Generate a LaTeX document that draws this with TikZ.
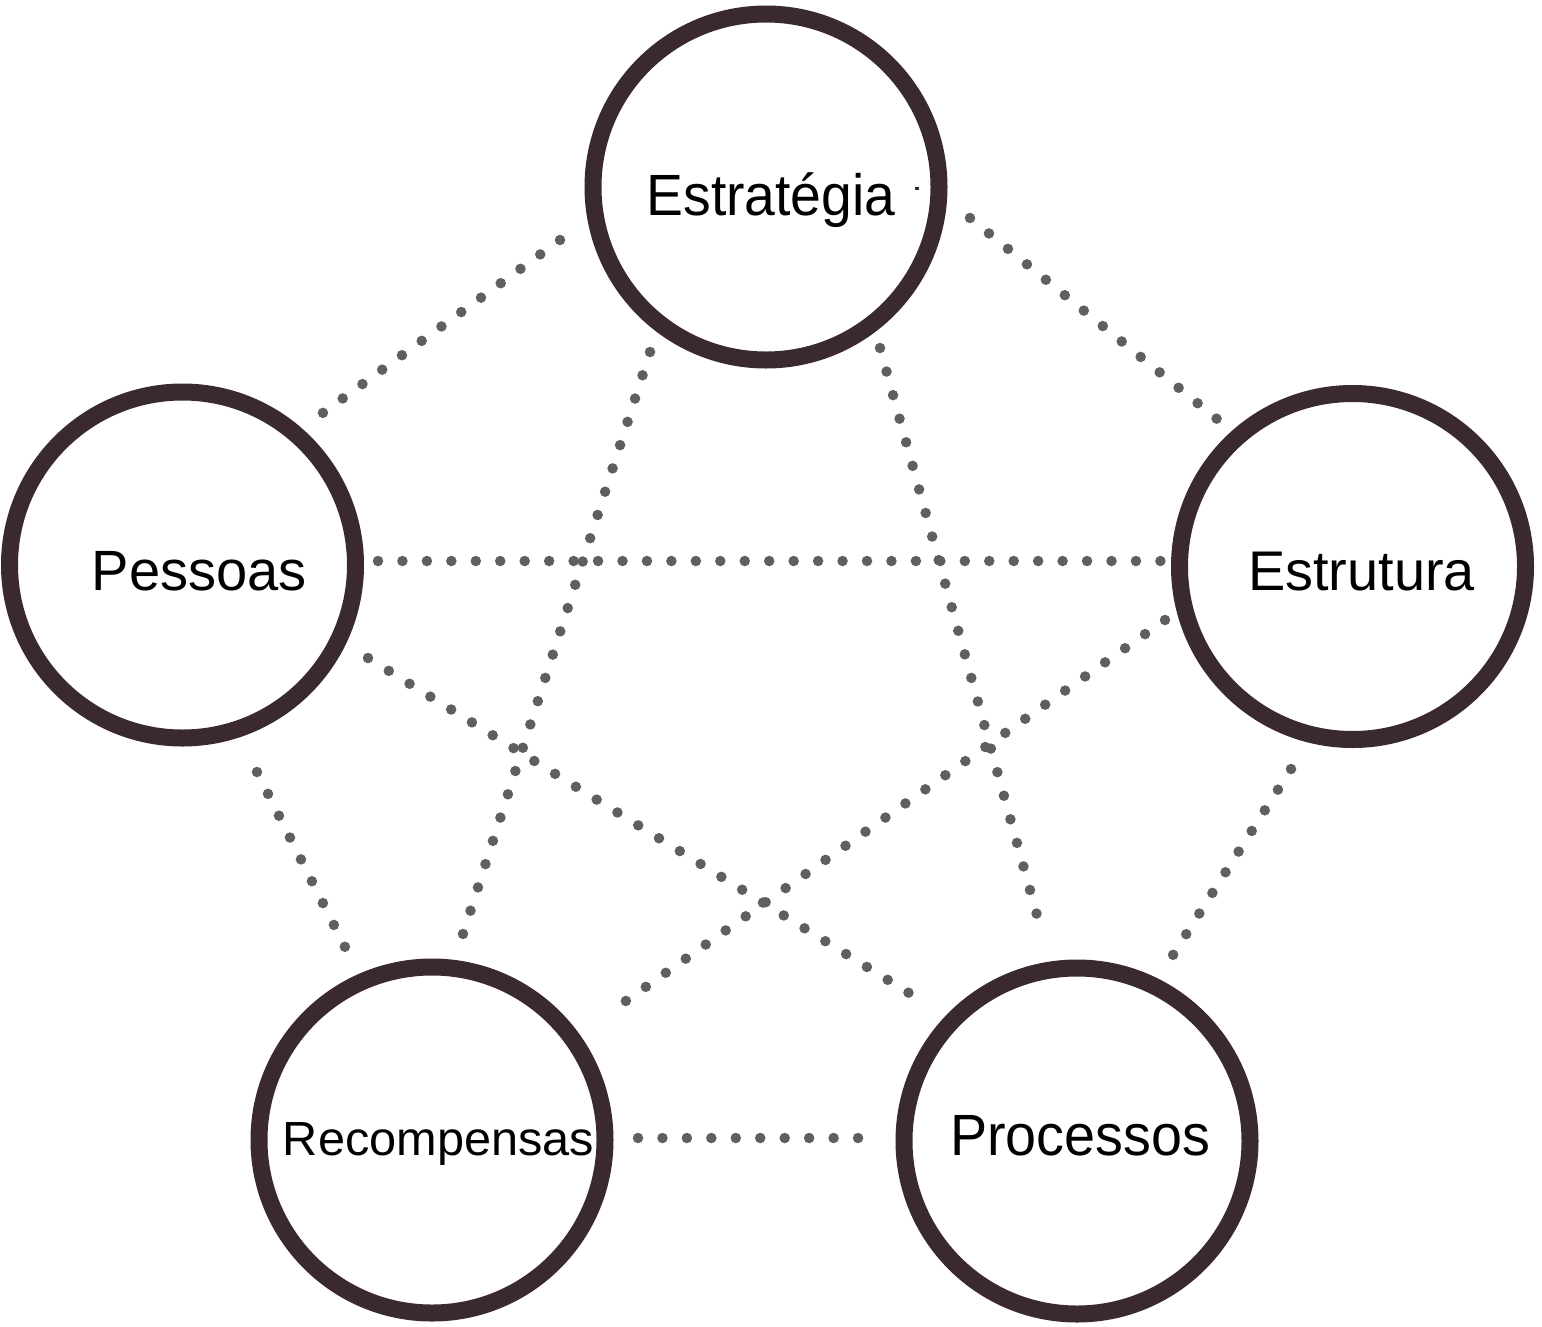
\documentclass[tikz,border=0pt]{standalone}
\usepackage{fontspec}
\setmainfont{Liberation Sans}
\usetikzlibrary{calc}
\definecolor{ringc}{RGB}{58,42,46}
\definecolor{dotc}{RGB}{95,95,95}
\begin{document}
\begin{tikzpicture}[x=1pt,y=-1pt,
  ring/.style={circle,draw=ringc,line width=17pt,minimum size=346pt,inner sep=0pt},
  lbl/.style={anchor=base,inner sep=0pt,text=black},
  dotline/.style={draw=dotc,line width=10.5pt,line cap=round,dash pattern=on 0pt off 24.45pt}]
\useasboundingbox (0,0) rectangle (1542,1326);
\fill[white] (0,0) rectangle (1542,1326);
% circles
\node[ring] (E) at (766,187) {};
\node[ring] (P) at (182.5,565) {};
\node[ring] (S) at (1352.5,566.5) {};
\node[ring] (R) at (432,1140) {};
\node[ring] (C) at (1077,1141) {};
% labels
\node[lbl] (tE) at (771,215) {\fontsize{58.2}{60}\selectfont\scalebox{0.95}[1]{Estratégia}};
\node[lbl] (tP) at (199.5,590.5) {\fontsize{56.8}{60}\selectfont\scalebox{0.987}[1]{Pessoas}};
\node[lbl] (tS) at (1361.5,590) {\fontsize{55.9}{60}\selectfont Estrutura};
\node[lbl] (tC) at (1080,1155) {\fontsize{58.2}{60}\selectfont\scalebox{0.957}[1]{Processos}};
\node[lbl] (tR) at (438.5,1155) {\fontsize{47.9}{50}\selectfont\scalebox{1.016}[1]{Recompensas}};
\fill[ringc] (915,187) rectangle (919,189.5);
% dotted connectors
\draw[dotline] ($(E)+(-206,53)$) -- ($(P)+(137.5,-150)$);
\draw[dotline] ($(E)+(204,31)$) -- ($(S)+(-135.5,-147.5)$);
\draw[dotline] ($(E)+(-116,165)$) -- ($(R)+(31,-206)$);
\draw[dotline] ($(E)+(114,161)$) -- ($(C)+(-34,-204)$);
\draw[dotline] ($(P)+(195.5,-4)$) -- ($(S)+(-190.5,-5.5)$);
\draw[dotline] ($(P)+(74.5,207)$) -- ($(R)+(-87,-193)$);
\draw[dotline] ($(P)+(185.5,93)$) -- ($(C)+(-168,-148)$);
\draw[dotline] ($(S)+(-187.5,53.5)$) -- ($(R)+(174,-125)$);
\draw[dotline] ($(S)+(-61.5,202.5)$) -- ($(C)+(96,-186)$);
\draw[dotline] ($(R)+(206,-2)$) -- ($(C)+(-217,-3)$);
\end{tikzpicture}
\end{document}
